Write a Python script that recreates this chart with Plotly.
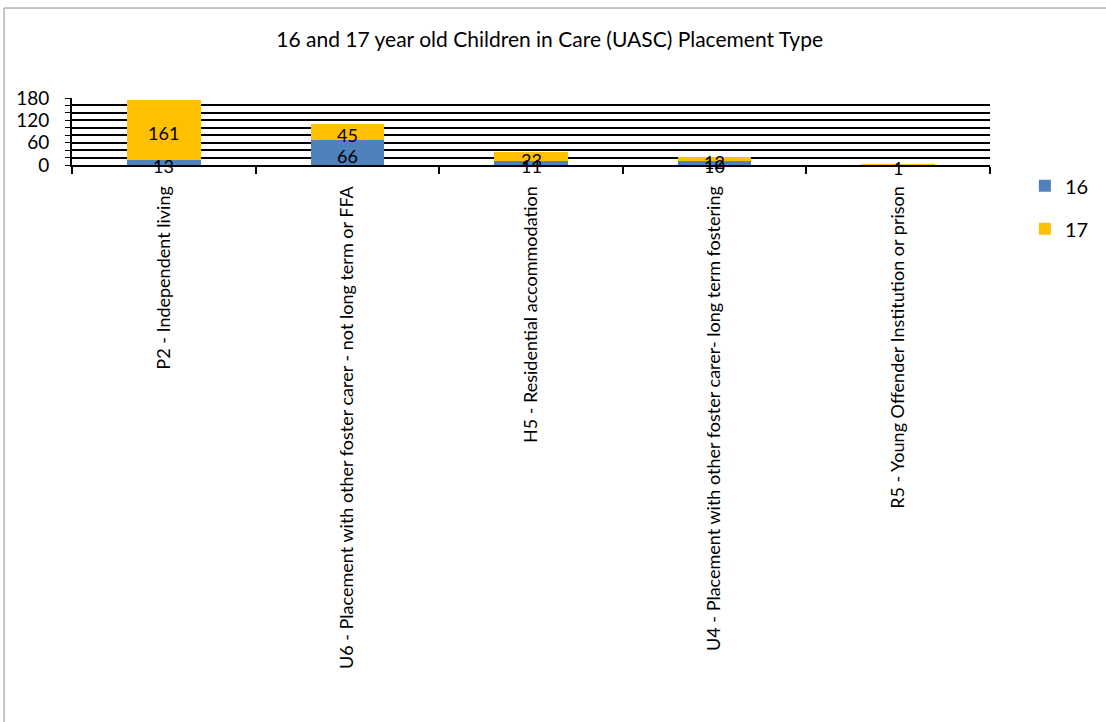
import plotly.graph_objects as go

# Placement types (x categories)
categories = [
    "P2 - Independent living",
    "U6 - Placement with other foster carer - not long term or FFA",
    "H5 - Residential accommodation",
    "U4 - Placement with other foster carer- long term fostering",
    "R5 - Young Offender Institution or prison",
]

# Counts by age
age_16 = [13, 66, 11, 10, None]
age_17 = [161, 45, 23, 12, 1]

series_names = ["16", "17"]
series_colors = ["#4F81BD", "#FFC000"]

FONT = "Lato, 'Open Sans', sans-serif"

fig = go.Figure()
for name, vals, col in zip(series_names, [age_16, age_17], series_colors):
    fig.add_trace(go.Bar(
        x=categories, y=vals, name=name, marker_color=col,
        marker_line_width=0, width=0.4, legendgroup=name,
    ))

# Value labels centred in each stacked segment
annotations = []
base = [0] * len(categories)
for vals in [age_16, age_17]:
    for i, v in enumerate(vals):
        if v is None:
            continue
        annotations.append(dict(
            x=categories[i], y=base[i] + v / 2, text=str(v), showarrow=False,
            xref="x", yref="y", yshift=-3,
            font=dict(family=FONT, size=18, color="black"),
        ))
        base[i] += v

# Outer chart border
shapes = [dict(
    type="rect", xref="paper", yref="paper",
    x0=-0.074, x1=1.2, y0=-9, y1=2.343,
    line=dict(color="#8c8c8c", width=1), fillcolor="rgba(0,0,0,0)", layer="below",
)]

fig.update_layout(
    barmode="stack",
    width=1106, height=722,
    margin=dict(l=72, r=101, t=98, b=557),
    paper_bgcolor="white", plot_bgcolor="white",
    font=dict(family=FONT, color="black"),
    title=dict(
        text="16 and 17 year old Children in Care (UASC) Placement Type",
        x=0.497, xref="container", xanchor="center",
        y=1 - 40 / 722, yref="container", yanchor="middle",
        font=dict(family=FONT, size=21, color="black"),
    ),
    showlegend=True,
    legend=dict(
        x=1.038, xanchor="left", y=-0.02, yanchor="top",
        traceorder="grouped", tracegroupgap=14,
        font=dict(family=FONT, size=20, color="black"),
        bgcolor="rgba(0,0,0,0)",
    ),
    annotations=annotations,
    shapes=shapes,
    bargap=0.6,
)

fig.update_yaxes(
    range=[0, 180], dtick=60, tick0=0,
    showgrid=True, gridcolor="black", gridwidth=2,
    showline=True, linecolor="black", linewidth=2,
    ticks="outside", ticklen=5, tickcolor="black", tickwidth=1,
    ticklabelstandoff=12,
    tickfont=dict(family=FONT, size=19, color="black"),
    minor=dict(dtick=20, showgrid=True, gridcolor="black", gridwidth=2,
               ticks="outside", ticklen=5, tickcolor="black"),
    zeroline=False,
)
fig.update_xaxes(
    showline=True, linecolor="black", linewidth=2,
    ticks="outside", tickson="boundaries", ticklen=7, tickcolor="black", tickwidth=2,
    tickangle=-90, ticklabelstandoff=12,
    tickfont=dict(family=FONT, size=18, color="black"),
)

fig.write_html("out.html")
